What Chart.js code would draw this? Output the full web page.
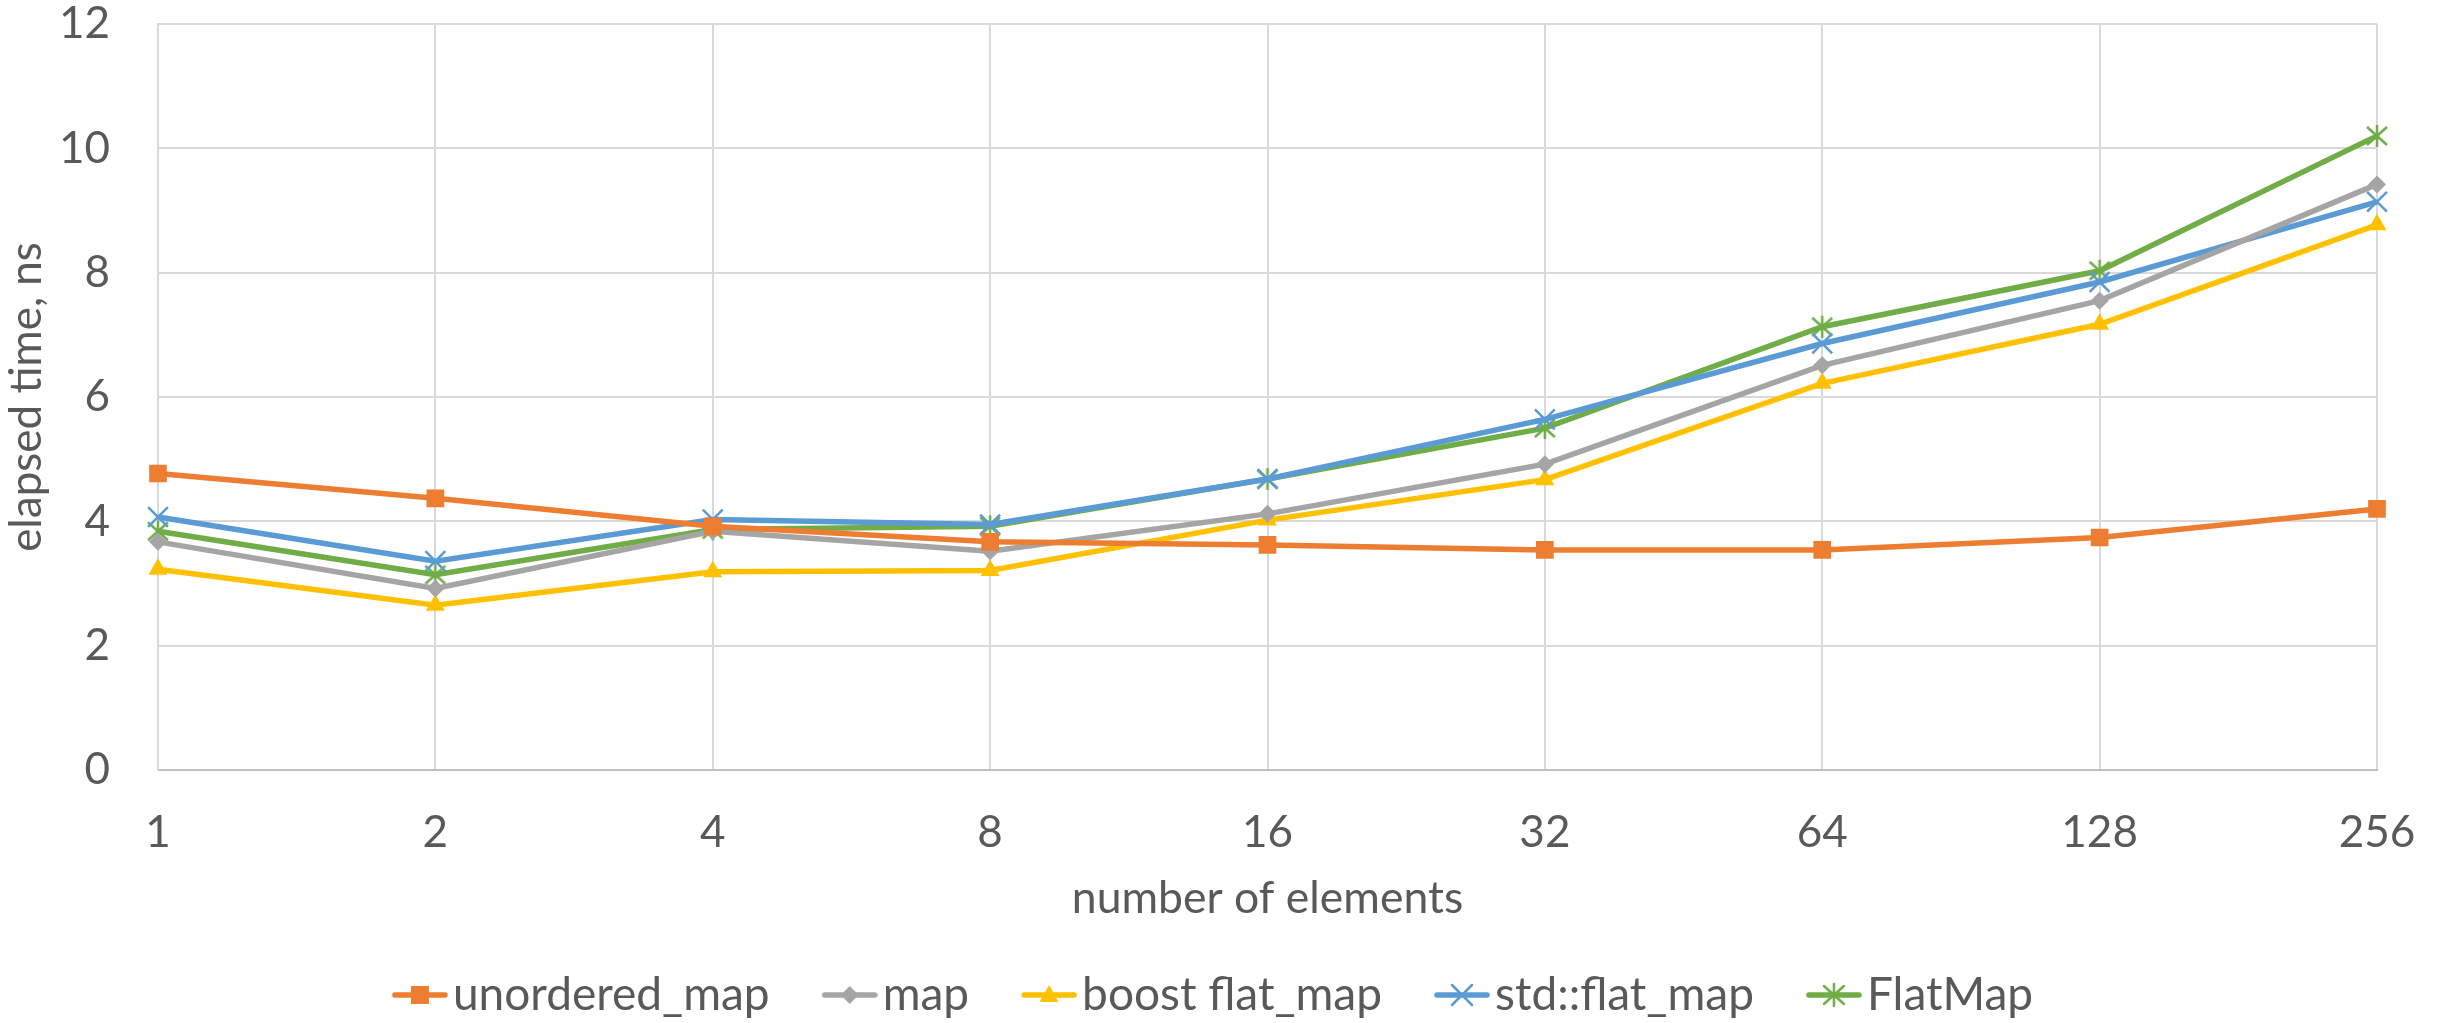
<!DOCTYPE html>
<html>
<head>
<meta charset="utf-8">
<style>
html,body{margin:0;padding:0;background:#fff;}
canvas{display:block;}
</style>
<script src="https://cdn.jsdelivr.net/npm/chart.js@4.4.1/dist/chart.umd.min.js"></script>
</head>
<body>
<canvas id="c" width="2450" height="1023"></canvas>
<script>
const categories = ['1', '2', '4', '8', '16', '32', '64', '128', '256'];
const seriesNames = ['unordered_map', 'map', 'boost flat_map', 'std::flat_map', 'FlatMap'];
const unorderedMap = [4.77, 4.37, 3.92, 3.67, 3.62, 3.54, 3.54, 3.74, 4.20];
const stdMap       = [3.67, 2.92, 3.84, 3.52, 4.12, 4.92, 6.51, 7.55, 9.42];
const boostFlatMap = [3.23, 2.65, 3.19, 3.21, 4.02, 4.67, 6.22, 7.17, 8.77];
const stdFlatMap   = [4.07, 3.36, 4.03, 3.95, 4.68, 5.64, 6.86, 7.85, 9.14];
const flatMap      = [3.84, 3.14, 3.87, 3.92, 4.68, 5.50, 7.13, 8.03, 10.20];
const yTicks = [0, 2, 4, 6, 8, 10, 12];

const colors = ['#ED7D31', '#A5A5A5', '#FFC000', '#5B9BD5', '#70AD47'];
const FONT = 'Lato';
const TXT = '#595959';
const LINE_W = 5.5;
const TRANSPARENT = 'rgba(0,0,0,0)';
const LEG_FONT = 46;

function drawMarker(ctx, kind, cx, cy, color) {
  ctx.fillStyle = color; ctx.strokeStyle = color;
  ctx.beginPath();
  if (kind === 'rect') {
    ctx.rect(cx - 9, cy - 9, 18, 18); ctx.fill();
  } else if (kind === 'diamond') {
    ctx.moveTo(cx - 9, cy); ctx.lineTo(cx, cy - 9); ctx.lineTo(cx + 9, cy); ctx.lineTo(cx, cy + 9);
    ctx.closePath(); ctx.fill();
  } else if (kind === 'triangle') {
    ctx.moveTo(cx, cy - 10); ctx.lineTo(cx + 9.5, cy + 7); ctx.lineTo(cx - 9.5, cy + 7);
    ctx.closePath(); ctx.fill();
  } else if (kind === 'x') {
    ctx.lineWidth = 2.5;
    ctx.moveTo(cx - 10, cy - 10); ctx.lineTo(cx + 10, cy + 10);
    ctx.moveTo(cx + 10, cy - 10); ctx.lineTo(cx - 10, cy + 10);
    ctx.stroke();
  } else if (kind === 'star') {
    ctx.lineWidth = 2.5;
    ctx.moveTo(cx - 10, cy - 9); ctx.lineTo(cx + 10, cy + 9);
    ctx.moveTo(cx + 10, cy - 9); ctx.lineTo(cx - 10, cy + 9);
    ctx.moveTo(cx, cy - 11); ctx.lineTo(cx, cy + 11);
    ctx.stroke();
  }
}

// Excel-like asterisk marker for FlatMap
function starImage(color) {
  const c = document.createElement('canvas');
  c.width = 26; c.height = 26;
  drawMarker(c.getContext('2d'), 'star', 13, 13, color);
  return c;
}

// legend symbol: short line with marker, placed just left of the text
const LEG_PAD = 4;
const LEG_BOX = 86;
function legendImage(kind, color) {
  const W = LEG_BOX + 2 * (LEG_FONT / 2 - 5), H = 30;
  const c = document.createElement('canvas');
  c.width = W; c.height = H;
  const ctx = c.getContext('2d');
  ctx.strokeStyle = color; ctx.lineWidth = LINE_W; ctx.lineCap = 'round';
  ctx.beginPath(); ctx.moveTo(W - 56 + 3, H / 2); ctx.lineTo(W - 3, H / 2); ctx.stroke();
  drawMarker(ctx, kind, W - 28, H / 2, color);
  return c;
}
const markerKinds = ['rect', 'diamond', 'triangle', 'x', 'star'];
const legendImgs = markerKinds.map((k, i) => legendImage(k, colors[i]));

const values = [unorderedMap, stdMap, boostFlatMap, stdFlatMap, flatMap];
const pointStyles = ['rect', 'rectRot', 'triangle', 'crossRot', starImage(colors[4])];
const pointRadii = [12.5, 9, 11, 14, 11];
const pointBorderW = [0, 0, 0, 2.5, 2.5];

const datasets = values.map((v, i) => ({
  label: seriesNames[i],
  data: v,
  borderColor: colors[i],
  backgroundColor: colors[i],
  borderWidth: LINE_W,
  tension: 0,
  pointStyle: pointStyles[i],
  pointRadius: pointRadii[i],
  pointHoverRadius: pointRadii[i],
  pointBorderWidth: pointBorderW[i],
  pointBackgroundColor: colors[i],
  pointBorderColor: colors[i]
}));

Chart.defaults.font.family = FONT;
Chart.defaults.color = TXT;

new Chart(document.getElementById('c'), {
  type: 'line',
  data: { labels: categories, datasets },
  options: {
    responsive: false,
    animation: false,
    devicePixelRatio: 1,
    layout: { padding: { top: 24, right: 73, left: 0, bottom: -5 } },
    plugins: {
      tooltip: { enabled: false },
      legend: {
        position: 'bottom',
        labels: {
          usePointStyle: true,
          pointStyleWidth: LEG_BOX,
          padding: LEG_PAD,
          color: TXT,
          font: { family: FONT, size: LEG_FONT },
          generateLabels: (chart) => {
            const base = Chart.defaults.plugins.legend.labels.generateLabels(chart);
            return base.map((l, i) => Object.assign(l, { pointStyle: legendImgs[i] }));
          }
        }
      }
    },
    scales: {
      x: {
        type: 'category',
        offset: false,
        grid: { color: '#D9D9D9', lineWidth: 2, drawTicks: true, tickLength: 34, tickColor: TRANSPARENT, offset: false },
        border: { color: '#BFBFBF', width: 2 },
        ticks: { color: TXT, font: { family: FONT, size: 44 }, padding: 2, maxRotation: 0, autoSkip: false },
        title: { display: true, text: 'number of elements', color: TXT, font: { family: FONT, size: 44.5 }, padding: { top: 0, bottom: 43 } },
        afterFit: (s) => { s.height = 198; }
      },
      y: {
        min: 0, max: 12,
        afterBuildTicks: (s) => { s.ticks = yTicks.map(v => ({ value: v })); },
        grid: { color: '#D9D9D9', lineWidth: 2, drawTicks: true, tickLength: 46, tickColor: TRANSPARENT },
        border: { color: '#D9D9D9', width: 2 },
        ticks: { color: TXT, font: { family: FONT, size: 44, lineHeight: 1 }, padding: 2 },
        title: { display: true, text: 'elapsed time, ns', color: TXT, font: { family: FONT, size: 44 }, padding: { top: 0, bottom: 0 } },
        afterFit: (s) => { s.width = 158; }
      }
    }
  }
});
</script>
</body>
</html>
